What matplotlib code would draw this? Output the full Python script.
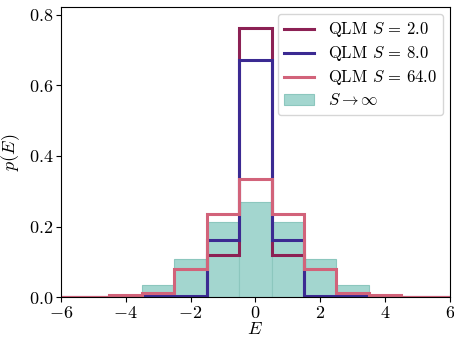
import numpy as np
import matplotlib
matplotlib.use('Agg')
import matplotlib.pyplot as plt

# Fuentes tipo LaTeX (Computer Modern)
plt.rcParams['font.family'] = 'serif'
plt.rcParams['font.serif'] = ['cmr10', 'DejaVu Serif']
plt.rcParams['mathtext.fontset'] = 'cm'
plt.rcParams['axes.formatter.use_mathtext'] = True

# Datos: energía E (centros de bins) y p(E)
energias = [-6, -5, -4, -3, -2, -1, 0, 1, 2, 3, 4, 5, 6]
p_s2 = [0, 0, 0, 0, 0, 0.118, 0.762, 0.118, 0, 0, 0, 0, 0]
p_s8 = [0, 0, 0, 0.003, 0.003, 0.162, 0.672, 0.162, 0.003, 0.003, 0, 0, 0]
p_s64 = [0, 0.001, 0.005, 0.012, 0.081, 0.236, 0.334, 0.236, 0.081, 0.012, 0.005, 0.001, 0]
p_inf = [0, 0.001, 0.006, 0.034, 0.108, 0.213, 0.269, 0.213, 0.108, 0.034, 0.006, 0.001, 0]

etiquetas = ['QLM $S\\,=\\,2.0$', 'QLM $S\\,=\\,8.0$', 'QLM $S\\,=\\,64.0$']
colores = ['#8c2154', '#3b2a92', '#d2637a']

bordes = np.append(np.array(energias) - 0.5, energias[-1] + 0.5)

fig = plt.figure(figsize=(4.54, 3.38), dpi=100)
ax = fig.add_axes([0.134, 0.121, 0.857, 0.858])

ax.bar(energias, p_inf, width=1.0, color='#a3d6cf', edgecolor='#8cc7be',
       linewidth=0.8, label=r'$S\rightarrow\infty$')

for valores, col, lab in zip([p_s2, p_s8, p_s64], colores, etiquetas):
    ax.stairs(valores, bordes, color=col, linewidth=2.2, label=lab)

ax.set_xlim(-6, 6)
ax.set_ylim(0, 0.822)
ax.set_xticks([-6, -4, -2, 0, 2, 4, 6])
ax.set_yticks([0.0, 0.2, 0.4, 0.6, 0.8])
ax.tick_params(labelsize=13, pad=2)
ax.set_xlabel('$E$', fontsize=13, labelpad=0)
ax.set_ylabel('$p(E)$', fontsize=13, labelpad=5)

ax.legend(loc='upper right', fontsize=12, handlelength=1.8,
          labelspacing=0.3, borderaxespad=0.4)

fig.savefig('out.png', dpi=100)
